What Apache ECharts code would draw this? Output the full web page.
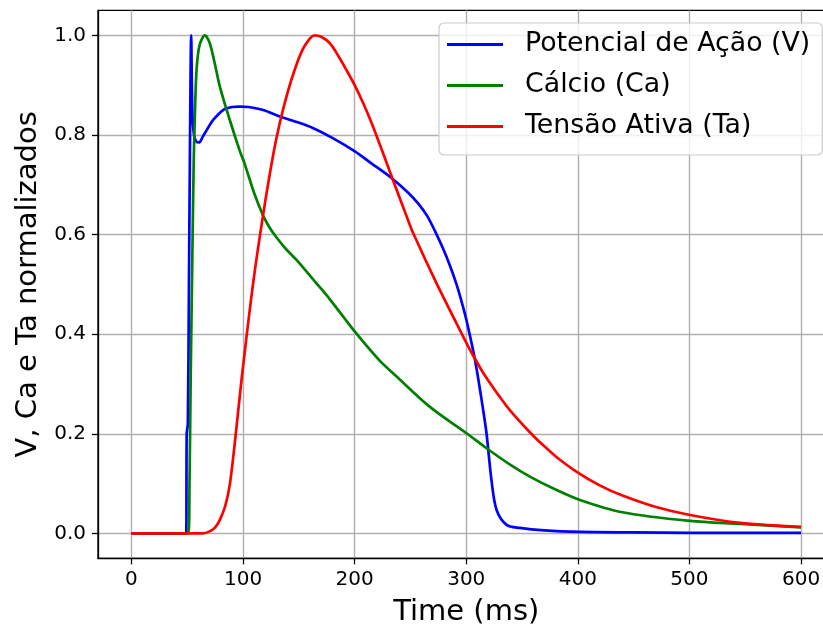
<!DOCTYPE html>
<html>
<head>
<meta charset="utf-8">
<script src="https://cdn.jsdelivr.net/npm/echarts@6/dist/echarts.min.js"></script>
<style>
html,body{margin:0;padding:0;background:#fff;}
#chart{width:823px;height:633px;}
</style>
</head>
<body>
<div id="chart"></div>
<script>
// ---- data ----
const seriesNames = ['Potencial de Ação (V)', 'Cálcio (Ca)', 'Tensão Ativa (Ta)'];
const xTicks = [0, 100, 200, 300, 400, 500, 600];
const yTicks = [0.0, 0.2, 0.4, 0.6, 0.8, 1.0];

const vTime   = [0, 49, 49.5, 50.5, 51.5, 52.5, 53.5, 54.5, 56, 58, 60.6, 64, 68, 73.2, 82.1, 90, 97, 105, 118, 133, 148, 162.5, 180, 200.2, 215, 231.6, 248, 257, 264.8, 272, 279, 285, 291.3, 297, 300.3, 306, 309.3, 312.2, 315, 318.2, 322.7, 327.2, 336.2, 348, 370, 402, 450, 500, 600];
const vValues = [0, 0, 0.2, 0.22, 0.5, 0.8, 1.0, 0.85, 0.8, 0.787, 0.785, 0.797, 0.812, 0.83, 0.85, 0.856, 0.857, 0.856, 0.85, 0.837, 0.826, 0.814, 0.794, 0.767, 0.743, 0.716, 0.684, 0.662, 0.638, 0.607, 0.573, 0.54, 0.5, 0.456, 0.427, 0.369, 0.33, 0.29, 0.25, 0.2, 0.105, 0.047, 0.017, 0.011, 0.006, 0.003, 0.002, 0.001, 0.001];

const caTime   = [0, 51, 52, 53, 54.5, 55.8, 56.7, 58.3, 61, 65.7, 70, 74, 79.2, 88.1, 97.2, 101, 110, 118, 124, 130, 138, 147.9, 165, 177.8, 200.2, 222, 237.6, 267.4, 300.3, 318.2, 340, 357, 380, 401.9, 438.5, 500.5, 545.5, 600];
const caValues = [0, 0, 0.1, 0.3, 0.55, 0.75, 0.83, 0.93, 0.98, 1.0, 0.985, 0.95, 0.897, 0.83, 0.767, 0.745, 0.683, 0.638, 0.613, 0.594, 0.572, 0.549, 0.504, 0.47, 0.405, 0.348, 0.315, 0.254, 0.201, 0.171, 0.137, 0.114, 0.088, 0.067, 0.043, 0.025, 0.019, 0.012];

const taTime   = [0, 64, 70, 75, 79.2, 84, 88.1, 93, 98.6, 109, 118, 127, 133, 140, 148, 155, 164, 170, 177.8, 185, 192.7, 200, 207.6, 215, 222.5, 231.6, 237.6, 246.5, 252.4, 273.4, 297.3, 303.3, 315, 327.2, 340, 357, 366, 380, 400, 420, 440, 470, 500.5, 545.5, 600];
const taValues = [0, 0, 0.004, 0.012, 0.027, 0.055, 0.098, 0.19, 0.308, 0.502, 0.64, 0.76, 0.825, 0.886, 0.942, 0.978, 1.0, 0.997, 0.984, 0.96, 0.93, 0.9, 0.864, 0.825, 0.781, 0.726, 0.69, 0.637, 0.603, 0.502, 0.395, 0.369, 0.323, 0.283, 0.245, 0.203, 0.183, 0.155, 0.122, 0.096, 0.076, 0.053, 0.037, 0.021, 0.013];

const seriesColors = ['#0000ff', '#008000', '#ff0000'];

function zip(a, b) { return a.map((t, i) => [t, b[i]]); }

const FONT = 'DejaVu Sans';
const chart = echarts.init(document.getElementById('chart'), null, {renderer: 'canvas'});

const option = {
  backgroundColor: '#ffffff',
  animation: false,
  textStyle: {fontFamily: FONT},
  grid: {
    left: 98, right: -11.5, top: 10.4, bottom: 74.7,
    outerBoundsMode: 'none',
    show: true, borderColor: '#000000', borderWidth: 1.3, backgroundColor: 'transparent'
  },
  legend: {
    orient: 'vertical',
    left: 439, top: 23,
    padding: [8, 12, 15, 8],
    itemGap: 14,
    itemWidth: 56,
    itemHeight: 3,
    icon: 'rect',
    backgroundColor: 'rgba(255,255,255,0.8)',
    borderColor: '#cccccc',
    borderWidth: 1.2,
    borderRadius: 5,
    formatter: name => '{g|}' + name,
    textStyle: {
      fontFamily: FONT, fontSize: 26.8, color: '#000', lineHeight: 26,
      rich: {g: {width: 17}}
    },
    data: seriesNames
  },
  xAxis: {
    type: 'value', min: -30, max: 630,
    name: 'Time (ms)', nameLocation: 'middle', nameGap: 40,
    nameTextStyle: {fontFamily: FONT, fontSize: 29, color: '#000'},
    axisLine: {show: true, onZero: false, lineStyle: {color: '#000', width: 1.3}},
    axisTick: {show: true, length: 6, customValues: xTicks, lineStyle: {color: '#000', width: 1.3}},
    axisLabel: {customValues: xTicks, margin: 11, fontFamily: FONT, fontSize: 20, color: '#000'},
    splitLine: {show: true, lineStyle: {color: '#b0b0b0', width: 1.4}}
  },
  yAxis: {
    type: 'value', min: -0.05, max: 1.05,
    name: 'V, Ca e Ta normalizados', nameLocation: 'middle', nameGap: 45,
    nameTextStyle: {fontFamily: FONT, fontSize: 29, color: '#000'},
    axisLine: {show: true, onZero: false, lineStyle: {color: '#000', width: 1.3}},
    axisTick: {show: true, length: 6, customValues: yTicks, lineStyle: {color: '#000', width: 1.3}},
    axisLabel: {customValues: yTicks, margin: 12, fontFamily: FONT, fontSize: 20, color: '#000',
      formatter: v => v.toFixed(1)},
    splitLine: {show: true, lineStyle: {color: '#b0b0b0', width: 1.4}}
  },
  series: [
    {name: seriesNames[0], data: zip(vTime, vValues)},
    {name: seriesNames[1], data: zip(caTime, caValues)},
    {name: seriesNames[2], data: zip(taTime, taValues)}
  ].map((s, i) => Object.assign(s, {
    type: 'line', showSymbol: false, symbol: 'none', smooth: 0.3,
    color: seriesColors[i],
    lineStyle: {color: seriesColors[i], width: 2.7},
    z: 3 + i
  }))
};
chart.setOption(option);
</script>
</body>
</html>
